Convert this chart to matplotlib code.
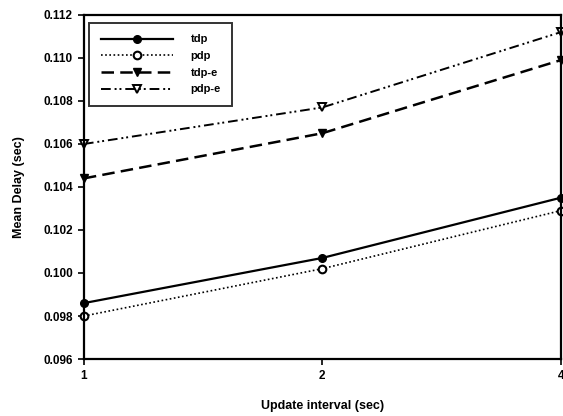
import matplotlib
matplotlib.use("Agg")
import matplotlib.pyplot as plt
from matplotlib.ticker import FixedLocator, NullLocator, FixedFormatter

plt.rcParams['font.family'] = ['Liberation Sans', 'DejaVu Sans']

x_vals = [1, 2, 4]
x_labels = ["1", "2", "4"]
tdp = [0.0986, 0.1007, 0.1035]
pdp = [0.0980, 0.1002, 0.1029]
tdp_e = [0.1044, 0.1065, 0.1099]
pdp_e = [0.1060, 0.1077, 0.1112]
y_ticks = [0.096, 0.098, 0.100, 0.102, 0.104, 0.106, 0.108, 0.110, 0.112]

fig = plt.figure(figsize=(5.63, 4.16), dpi=100)
ax = fig.add_axes([0.149, 0.137, 0.847, 0.827])

ax.plot(x_vals, tdp, color='black', linestyle='-', linewidth=1.6,
        marker='o', markersize=5.5, markerfacecolor='black', label='tdp', clip_on=False)
ax.plot(x_vals, pdp, color='black', linestyle=(0, (1, 1.5)), linewidth=1.2,
        marker='o', markersize=5.5, markerfacecolor='white', markeredgewidth=1.5, label='pdp', clip_on=False)
ax.plot(x_vals, tdp_e, color='black', linestyle=(0, (5, 2.5)), linewidth=1.8,
        marker='v', markersize=6, markerfacecolor='black', label='tdp-e', clip_on=False)
ax.plot(x_vals, pdp_e, color='black', linestyle=(0, (5, 2, 1, 1.5, 1, 2)), linewidth=1.4,
        marker='v', markersize=6, markerfacecolor='white', markeredgewidth=1.4, label='pdp-e', clip_on=False)

ax.set_xscale('log', base=2)
ax.set_xlim(1, 4)
ax.xaxis.set_major_locator(FixedLocator(x_vals))
ax.xaxis.set_major_formatter(FixedFormatter(x_labels))
ax.xaxis.set_minor_locator(NullLocator())
ax.set_ylim(0.096, 0.112)
ax.set_yticks(y_ticks)
ax.set_yticklabels([f"{v:.3f}" for v in y_ticks])

for sp in ax.spines.values():
    sp.set_linewidth(1.6)
ax.tick_params(direction='out', length=4, width=1.2, labelsize=8.5, pad=4)
for lbl in ax.get_xticklabels() + ax.get_yticklabels():
    lbl.set_fontweight('bold')

ax.set_xlabel('Update interval (sec)', fontsize=9, fontweight='bold', labelpad=13)
ax.set_ylabel('Mean Delay (sec)', fontsize=9, fontweight='bold', labelpad=13)

leg = ax.legend(loc='upper left', bbox_to_anchor=(0.0, 0.992), frameon=True, fancybox=False,
                edgecolor='black', handlelength=6.5, borderpad=1.0,
                labelspacing=0.6, handletextpad=1.6, prop={'weight': 'bold', 'size': 8})
leg.get_frame().set_linewidth(1.4)

fig.savefig('out.png', dpi=100)
